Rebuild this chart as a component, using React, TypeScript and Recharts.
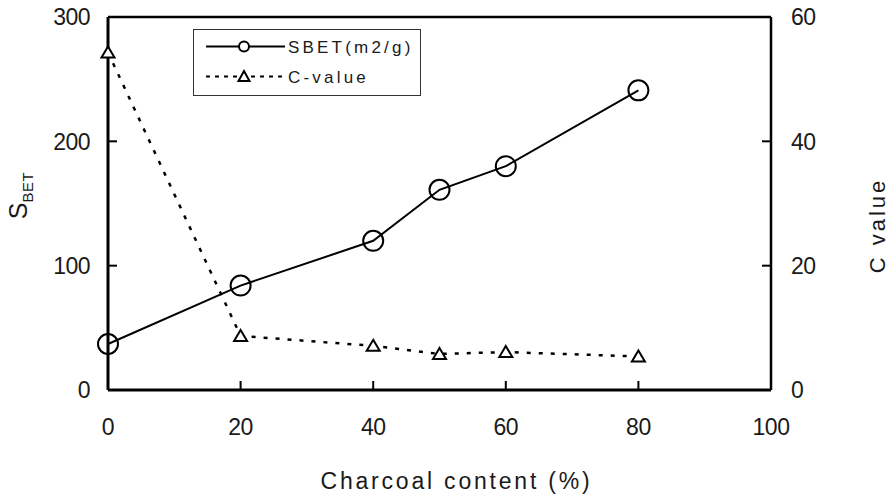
import React from "react";
import {
  ComposedChart,
  Line,
  XAxis,
  YAxis,
  Legend,
  ReferenceLine,
} from "recharts";

// Charcoal content (%) and the measured surface properties
const charcoalContent = [0, 20, 40, 50, 60, 80];
const sbetValues = [37, 84, 120, 161, 180, 241];
const cValues = [54.3, 8.7, 7.1, 5.8, 6.1, 5.4];

const xTicks = [0, 20, 40, 60, 80, 100];
const leftTicks = [0, 100, 200, 300];
const rightTicks = [0, 20, 40, 60];

const seriesNames = { sbet: "SBET(m2/g)", cval: "C-value" };
const legendOrder = ["sbet", "cval"];

const data = charcoalContent.map((c, i) => ({
  content: c,
  sbet: sbetValues[i],
  cval: cValues[i],
}));

const FONT = '"Liberation Sans", Arial, sans-serif';
const INK = "#1a1a1a";
const TICK_FS = 23;
const INWARD = 9;

const LeftTick = (props: any) => {
  const { x, y, payload } = props;
  const axisX = x + 18;
  return (
    <g>
      <line x1={axisX} x2={axisX + INWARD} y1={y} y2={y} stroke="#000" strokeWidth={2} />
      <text x={x} y={y} dy="0.36em" textAnchor="end" fontFamily={FONT} fontSize={TICK_FS} fill={INK} letterSpacing={-0.5}>
        {payload.value}
      </text>
    </g>
  );
};

const RightTick = (props: any) => {
  const { x, y, payload } = props;
  const axisX = x - 20;
  return (
    <g>
      <line x1={axisX} x2={axisX - INWARD} y1={y} y2={y} stroke="#000" strokeWidth={2} />
      <text x={x} y={y} dy="0.36em" textAnchor="start" fontFamily={FONT} fontSize={TICK_FS} fill={INK} letterSpacing={-0.5}>
        {payload.value}
      </text>
    </g>
  );
};

const BottomTick = (props: any) => {
  const { x, y, payload } = props;
  const axisY = y - 28;
  return (
    <g>
      <line x1={x} x2={x} y1={axisY} y2={axisY - INWARD} stroke="#000" strokeWidth={2} />
      <text x={x} y={y} dy="0.75em" textAnchor="middle" fontFamily={FONT} fontSize={TICK_FS} fill={INK} letterSpacing={-0.5}>
        {payload.value}
      </text>
    </g>
  );
};

const CircleDot = (props: any) => {
  const { cx, cy } = props;
  if (cx == null || cy == null) return null;
  return <circle cx={cx} cy={cy} r={10} fill="none" stroke="#000" strokeWidth={2} />;
};

const TriangleDot = (props: any) => {
  const { cx, cy } = props;
  if (cx == null || cy == null) return null;
  return (
    <path
      d={`M${cx},${cy - 6} L${cx + 6.5},${cy + 5} L${cx - 6.5},${cy + 5} Z`}
      fill="#fff"
      stroke="#000"
      strokeWidth={2}
      strokeLinejoin="miter"
    />
  );
};

const legendStyles: Record<string, { dash?: string; marker: "circle" | "triangle" }> = {
  sbet: { marker: "circle" },
  cval: { dash: "4 5", marker: "triangle" },
};

const LegendBox = (props: any) => {
  const payload = [...(props.payload || [])].sort(
    (a: any, b: any) => legendOrder.indexOf(a.dataKey) - legendOrder.indexOf(b.dataKey)
  );
  return (
    <svg width={228} height={67} style={{ display: "block" }}>
      <rect x={0.5} y={0.5} width={227} height={66} fill="#fff" stroke="#333" strokeWidth={1} />
      {payload.map((entry: any, i: number) => {
        const key = entry.dataKey as string;
        const st = legendStyles[key] || { marker: "circle" };
        const y = 17.5 + i * 30;
        return (
          <g key={key}>
            <line x1={13} x2={92} y1={y} y2={y} stroke="#000" strokeWidth={2} strokeDasharray={st.dash} />
            {st.marker === "circle" ? (
              <circle cx={51} cy={y} r={5} fill="#fff" stroke="#000" strokeWidth={2} />
            ) : (
              <path d={`M51,${y - 5.5} L56.5,${y + 4.5} L45.5,${y + 4.5} Z`} fill="#fff" stroke="#000" strokeWidth={2} />
            )}
            <text x={95} y={y} dy="0.36em" fontFamily={FONT} fontSize={17} fill={INK} letterSpacing={3.2}>
              {entry.value}
            </text>
          </g>
        );
      })}
    </svg>
  );
};

const LeftTitle = (props: any) => {
  const vb = props.viewBox || { x: 0, y: 0, width: 0, height: 0 };
  const bx = vb.x + 27;
  const cy = vb.y + vb.height / 2 - 8;
  return (
    <text
      x={bx}
      y={cy}
      transform={`rotate(-90, ${bx}, ${cy})`}
      textAnchor="middle"
      fontFamily={FONT}
      fill={INK}
    >
      <tspan fontSize={25}>S</tspan>
      <tspan fontSize={15} dy={6} letterSpacing={0.5}>BET</tspan>
    </text>
  );
};

const RightTitle = (props: any) => {
  const vb = props.viewBox || { x: 0, y: 0, width: 0, height: 0 };
  const bx = vb.x + 114;
  const cy = vb.y + vb.height / 2 + 22;
  return (
    <text
      x={bx}
      y={cy}
      transform={`rotate(-90, ${bx}, ${cy})`}
      textAnchor="middle"
      fontFamily={FONT}
      fontSize={22}
      letterSpacing={3}
      fill={INK}
    >
      C value
    </text>
  );
};

const BottomTitle = (props: any) => {
  const vb = props.viewBox || { x: 0, y: 0, width: 0, height: 0 };
  return (
    <text
      x={vb.x + vb.width / 2 + 17}
      y={vb.y + 99}
      textAnchor="middle"
      fontFamily={FONT}
      fontSize={23}
      letterSpacing={2.8}
      fill={INK}
    >
      Charcoal content (%)
    </text>
  );
};

export default function App() {
  return (
    <div style={{ position: "absolute", left: 0, top: 0, width: 891, height: 494, background: "#fff" }}>
      <ComposedChart width={891} height={494} data={data} margin={{ top: 17, right: 0, bottom: 0, left: 0 }}>
        <XAxis
          dataKey="content"
          type="number"
          domain={[0, 100]}
          ticks={xTicks}
          height={104}
          axisLine={{ stroke: "#000", strokeWidth: 3 }}
          tickLine={false}
          tickSize={8}
          tickMargin={20}
          tick={<BottomTick />}
          interval={0}
          label={{ content: <BottomTitle /> }}
        />
        <YAxis
          yAxisId="left"
          orientation="left"
          domain={[0, 300]}
          ticks={leftTicks}
          width={108}
          axisLine={{ stroke: "#000", strokeWidth: 3 }}
          tickLine={false}
          tickSize={8}
          tickMargin={10}
          tick={<LeftTick />}
          interval={0}
          label={{ content: <LeftTitle /> }}
        />
        <YAxis
          yAxisId="right"
          orientation="right"
          domain={[0, 60]}
          ticks={rightTicks}
          width={120}
          axisLine={{ stroke: "#000", strokeWidth: 2.5 }}
          tickLine={false}
          tickSize={8}
          tickMargin={12}
          tick={<RightTick />}
          interval={0}
          label={{ content: <RightTitle /> }}
        />
        <ReferenceLine yAxisId="left" y={300} stroke="#000" strokeWidth={2.5} />
        <Legend
          layout="vertical"
          align="center"
          verticalAlign="middle"
          wrapperStyle={{ left: 193, top: 29, width: 228, height: 67 }}
          content={<LegendBox />}
        />
        <Line
          yAxisId="left"
          type="linear"
          dataKey="sbet"
          name={seriesNames.sbet}
          stroke="#000"
          strokeWidth={2}
          dot={<CircleDot />}
          activeDot={false}
          isAnimationActive={false}
        />
        <Line
          yAxisId="right"
          type="linear"
          dataKey="cval"
          name={seriesNames.cval}
          stroke="#000"
          strokeWidth={2.5}
          strokeDasharray="4 8"
          dot={<TriangleDot />}
          activeDot={false}
          isAnimationActive={false}
        />
      </ComposedChart>
    </div>
  );
}
